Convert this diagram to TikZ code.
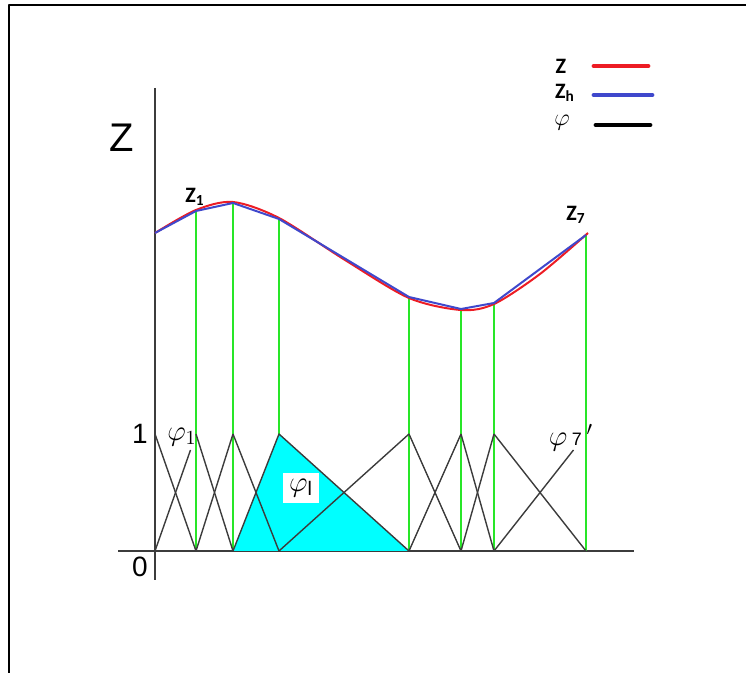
\documentclass[tikz,border=0pt]{standalone}
\usepackage{fontspec}
\setmainfont{Liberation Sans}
\newfontfamily\calibri{Carlito}
\usetikzlibrary{positioning}
\definecolor{zred}{RGB}{237,28,36}
\definecolor{zblue}{RGB}{63,72,204}
\definecolor{zgreen}{RGB}{40,230,40}
\definecolor{hatgray}{RGB}{60,60,60}
\definecolor{hatcyan}{RGB}{0,255,255}

\begin{document}
\begin{tikzpicture}[x=0.5pt, y=-0.5pt, line join=round,
    axis/.style={hatgray, line width=0.7pt},
    hat/.style={hatgray, line width=0.7pt},
    drop/.style={zgreen, line width=0.6pt},
    legline/.style={line width=2.4pt, line cap=round},
    zlabel/.style={font=\calibri\bfseries\fontsize{11}{12}\selectfont, inner sep=0pt},
    philabel/.style={font=\fontsize{14}{16}\selectfont, inner sep=1pt}]
    \useasboundingbox (0,0) rectangle (746,673);
    \draw[line width=1.3pt] (9,673) -- (9,5) -- (746,5);

    % nodal values of the interpolant
    \coordinate (z0) at (155,233);
    \coordinate (z1) at (196,211);
    \coordinate (z2) at (233,203);
    \coordinate (z3) at (279,219);
    \coordinate (z4) at (409,297);
    \coordinate (z5) at (461,309);
    \coordinate (z6) at (494,303);
    \coordinate (z7) at (586,235);

    % axes
    \draw[axis] (155,88) -- (155,580);
    \draw[axis] (118,551) -- (634,551);
    \node[font=\fontsize{20}{22}\selectfont] (zaxis) at (122,138) {Z};
    \node[font=\fontsize{14}{16}\selectfont] (one) at (140,434) {1};
    \node[font=\fontsize{14}{16}\selectfont] (zero) at (140,567) {0};

    % green drop lines
    \foreach \i in {1,...,7}
        \draw[drop] (z\i) -- (z\i |- 0,551);

    % shaded hat function
    \fill[hatcyan] (233,551) -- (279,434) -- (409,551) -- cycle;
    \draw[hat] (233,551) -- (279,434) -- (409,551);

    % hat functions
    \foreach \xa/\xb in {155/196,196/233,233/279,409/461,461/494,494/586}
        \draw[hat] (\xa,434) -- (\xb,551);
    \foreach \xa/\xb in {196/233,279/409,409/461,461/494}
        \draw[hat] (\xa,551) -- (\xb,434);
    \draw[hat] (155,551) -- (190.5,450);
    \draw[hat] (494,551) -- (573.5,450);

    % exact and interpolated curves
    \draw[zred, line width=1pt] plot[smooth, tension=0.5] coordinates
        {(155,233) (196,210) (233,202) (279,218) (345,260) (409,298)
         (461,310) (494,304) (540,274) (588,233)};
    \draw[zblue, line width=1pt] (z0) -- (z1) -- (z2) -- (z3) -- (z4)
        -- (z5) -- (z6) -- (z7);

    % labels
    \node[zlabel] (lz1) at (195,197) {Z\textsubscript{1}};
    \node[zlabel] (lz7) at (576,215) {Z\textsubscript{7}};
    \node[philabel] (lphi1) at (182,437) {$\varphi_1$};
    \node[philabel, fill=white, inner sep=3pt] (lphil) at (301,488) {$\varphi_\mathrm{l}$};
    \node[philabel] (lphi7) at (571,438) {$\varphi$\,{\small 7}\,$'$};

    % legend
    \node[zlabel] (legz) at (561,66) {Z};
    \node[zlabel] (legzh) at (565,93) {Z\textsubscript{h}};
    \node[philabel, inner sep=0pt, font=\fontsize{12}{13}\selectfont] (legphi) at (562,123) {$\varphi$};
    \coordinate (lr1) at (594,66);  \coordinate (lr2) at (648,66);
    \coordinate (lb1) at (594,95);  \coordinate (lb2) at (652,95);
    \coordinate (lk1) at (596,125); \coordinate (lk2) at (650,125);
    \draw[legline, zred] (lr1) -- (lr2);
    \draw[legline, zblue] (lb1) -- (lb2);
    \draw[legline, black] (lk1) -- (lk2);
\end{tikzpicture}
\end{document}
